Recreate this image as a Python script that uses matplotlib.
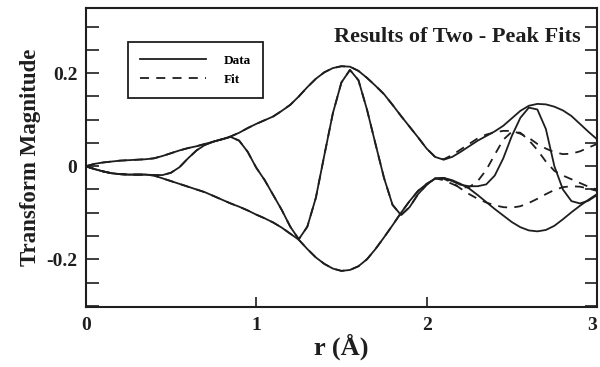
import numpy as np
import matplotlib
matplotlib.use('Agg')
import matplotlib.pyplot as plt
import matplotlib.transforms as mtransforms
from matplotlib.ticker import MultipleLocator, FixedLocator


# r grid (Angstrom), 0.05 steps from 0 to 3
r = np.round(np.arange(0, 3.001, 0.05), 2)

# Data: magnitude (upper), imaginary part (oscillating), -magnitude (lower)
data_upper = [0.000, 0.005, 0.008, 0.010, 0.012, 0.013, 0.014, 0.015, 0.017, 0.022,
              0.028, 0.034, 0.039, 0.043, 0.048, 0.053, 0.058, 0.064, 0.072, 0.082,
              0.091, 0.099, 0.107, 0.119, 0.132, 0.150, 0.170, 0.188, 0.202, 0.211,
              0.215, 0.214, 0.205, 0.190, 0.173, 0.155, 0.132, 0.108, 0.085, 0.062,
              0.038, 0.020, 0.014, 0.020, 0.031, 0.043, 0.055, 0.065, 0.075, 0.087,
              0.103, 0.119, 0.130, 0.134, 0.133, 0.128, 0.120, 0.108, 0.091, 0.074,
              0.058]
data_osc = [0.000, -0.006, -0.011, -0.015, -0.017, -0.018, -0.018, -0.018, -0.019, -0.019,
            -0.014, -0.002, 0.017, 0.034, 0.046, 0.053, 0.058, 0.063, 0.055, 0.031,
            -0.003, -0.030, -0.062, -0.094, -0.130, -0.157, -0.130, -0.068, 0.024, 0.114,
            0.180, 0.207, 0.185, 0.122, 0.048, -0.025, -0.083, -0.105, -0.088, -0.060,
            -0.040, -0.026, -0.025, -0.032, -0.040, -0.043, -0.043, -0.039, -0.020, 0.017,
            0.065, 0.104, 0.126, 0.122, 0.080, 0.000, -0.050, -0.075, -0.080, -0.074,
            -0.062]
data_lower = [0.000, -0.006, -0.011, -0.015, -0.017, -0.018, -0.018, -0.018, -0.020, -0.026,
              -0.032, -0.038, -0.044, -0.050, -0.056, -0.064, -0.072, -0.080, -0.087, -0.095,
              -0.104, -0.112, -0.121, -0.132, -0.145, -0.158, -0.178, -0.196, -0.210, -0.220,
              -0.225, -0.223, -0.215, -0.200, -0.178, -0.153, -0.127, -0.100, -0.075, -0.053,
              -0.038, -0.027, -0.025, -0.030, -0.038, -0.048, -0.062, -0.077, -0.092, -0.106,
              -0.120, -0.131, -0.138, -0.140, -0.137, -0.128, -0.114, -0.099, -0.085, -0.072,
              -0.060]

# Fit follows the data up to r = 2.05, then these values (r = 2.1 ... 3.0)
fit_upper_tail = [0.015, 0.024, 0.036, 0.048, 0.060, 0.068, 0.073, 0.076, 0.076, 0.070,
                  0.061, 0.048, 0.038, 0.030, 0.026, 0.027, 0.032, 0.040, 0.048]
fit_osc_tail = [-0.030, -0.038, -0.046, -0.045, -0.032, -0.008, 0.025, 0.057, 0.074, 0.072,
                0.056, 0.035, 0.010, -0.010, -0.020, -0.028, -0.036, -0.044, -0.050]
fit_lower_tail = [-0.027, -0.035, -0.048, -0.060, -0.070, -0.078, -0.084, -0.088, -0.089, -0.086,
                  -0.079, -0.070, -0.060, -0.051, -0.045, -0.043, -0.044, -0.048, -0.053]

fit_upper = data_upper[:42] + fit_upper_tail
fit_osc = data_osc[:42] + fit_osc_tail
fit_lower = data_lower[:42] + fit_lower_tail

LINE = '#1e1e1e'
SERIF = ['Liberation Serif', 'DejaVu Serif']

plt.rcParams['font.family'] = SERIF
plt.rcParams['font.weight'] = 'bold'

fig = plt.figure(figsize=(6.0, 3.67), dpi=100)
ax = fig.add_axes([0.143, 0.163, 0.852, 0.815])

for y in (data_upper, data_osc, data_lower):
    ax.plot(r, y, color=LINE, lw=1.3, solid_joinstyle='round')
for y in (fit_upper, fit_osc, fit_lower):
    ax.plot(r, y, color=LINE, lw=1.3, dashes=(5, 4))

# legend handles
ax.plot([], [], color=LINE, lw=1.3, label='Data')
ax.plot([], [], color=LINE, lw=1.3, dashes=(5, 4), label='Fit')
handles, labels = ax.get_legend_handles_labels()
leg = ax.legend(handles, labels, loc='upper left', bbox_to_anchor=(0.082, 0.886),
                borderaxespad=0, fancybox=False, framealpha=1, edgecolor=LINE,
                prop={'family': SERIF, 'weight': 'bold', 'size': 9.5},
                handlelength=5.0, borderpad=0.95, labelspacing=0.5, handletextpad=1.3)
leg.get_frame().set_linewidth(1.3)

ax.text(0.968, 0.903, 'Results of Two - Peak Fits', transform=ax.transAxes,
        ha='right', va='center', fontsize=16, fontweight='bold', color=LINE)

ax.set_xlim(0, 3.0)
ax.set_ylim(-0.303, 0.34)

ax.xaxis.set_major_locator(FixedLocator([0, 1, 2, 3]))
ax.yaxis.set_major_locator(FixedLocator([-0.2, 0, 0.2]))
ax.yaxis.set_minor_locator(MultipleLocator(0.05))
ax.set_xticklabels(['0', '1', '2', '3'])
ax.set_yticklabels(['-0.2', '0', '0.2'])

ax.tick_params(axis='both', which='both', direction='in', color=LINE,
               labelsize=14, labelcolor=LINE, width=1.2)
ax.tick_params(axis='y', which='both', length=9, right=True, pad=6)
ax.tick_params(axis='x', which='major', length=7, pad=7)
for lab in ax.get_xticklabels() + ax.get_yticklabels():
    lab.set_fontweight('bold')

# keep the last x label inside the figure
last = ax.get_xticklabels()[-1]
last.set_transform(last.get_transform() +
                   mtransforms.ScaledTranslation(-5 / 100, 0, fig.dpi_scale_trans))

for s in ax.spines.values():
    s.set_linewidth(1.5)
    s.set_color(LINE)

ax.set_xlabel('r (Å)', fontsize=19, fontweight='bold', color=LINE, labelpad=0)
ax.set_ylabel('Transform Magnitude', fontsize=16.5, fontweight='bold', color=LINE, labelpad=4)

fig.savefig('out.png', dpi=100)
